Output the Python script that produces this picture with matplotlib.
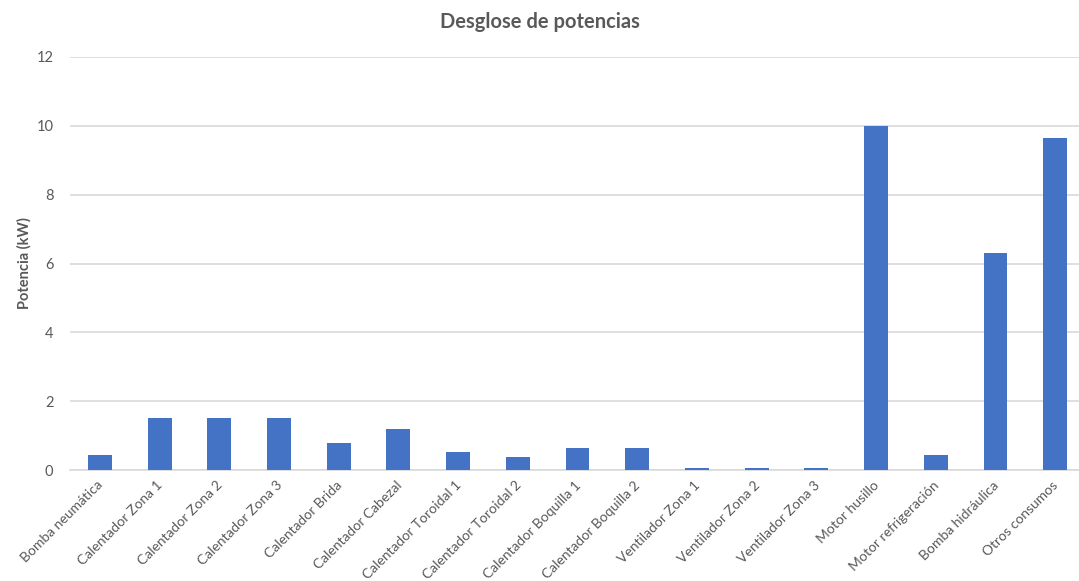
import matplotlib
matplotlib.use("Agg")
import matplotlib.pyplot as plt
from matplotlib.transforms import ScaledTranslation

categories = [
    "Bomba neumática", "Calentador Zona 1", "Calentador Zona 2", "Calentador Zona 3",
    "Calentador Brida", "Calentador Cabezal", "Calentador Toroidal 1", "Calentador Toroidal 2",
    "Calentador Boquilla 1", "Calentador Boquilla 2", "Ventilador Zona 1", "Ventilador Zona 2",
    "Ventilador Zona 3", "Motor husillo", "Motor refrigeración", "Bomba hidráulica",
    "Otros consumos",
]
potencia_kw = [0.45, 1.52, 1.52, 1.52, 0.8, 1.2, 0.53, 0.4, 0.65, 0.65,
               0.08, 0.08, 0.08, 10.0, 0.45, 6.3, 9.65]
yticks = [0, 2, 4, 6, 8, 10, 12]

plt.rcParams["font.family"] = ["Lato", "DejaVu Sans"]
text_grey = "#595959"

fig = plt.figure(figsize=(10.79, 5.81), dpi=100)
fig.patch.set_facecolor("white")
ax = fig.add_axes([0.0649, 0.1905, 0.9407, 0.7119])

x = list(range(len(categories)))
ax.bar(x, potencia_kw, width=0.4, color="#4472C4", zorder=3)

ax.set_xlim(-0.5, len(categories) - 0.5)
ax.set_ylim(0, 12)
ax.set_yticks(yticks)
ax.set_yticklabels([str(v) for v in yticks])
ax.yaxis.grid(True, color="#D9D9D9", linewidth=1.2, zorder=0)
ax.set_axisbelow(True)

for s in ["top", "right", "left"]:
    ax.spines[s].set_visible(False)
ax.spines["bottom"].set_color("#D9D9D9")
ax.spines["bottom"].set_linewidth(1.2)

ax.tick_params(axis="y", length=0, pad=12, labelsize=10.5, labelcolor=text_grey)
ax.tick_params(axis="x", length=0, pad=4, labelsize=10, labelcolor=text_grey)
ax.set_xticks(x)
ax.set_xticklabels(categories, rotation=45, ha="right", rotation_mode="anchor")
shift = ScaledTranslation(-3 / 100, -3 / 100, fig.dpi_scale_trans)
for lbl in ax.get_xticklabels():
    lbl.set_transform(lbl.get_transform() + shift)

ax.set_ylabel("Potencia (kW)", fontsize=10.5, fontweight="bold", color=text_grey)
ax.yaxis.set_label_coords(-0.038, 0.5)
fig.text(0.5, 0.962, "Desglose de potencias", ha="center", va="center",
         fontsize=14.5, fontweight="bold", color=text_grey)

fig.savefig("out.png", dpi=100, facecolor="white")
